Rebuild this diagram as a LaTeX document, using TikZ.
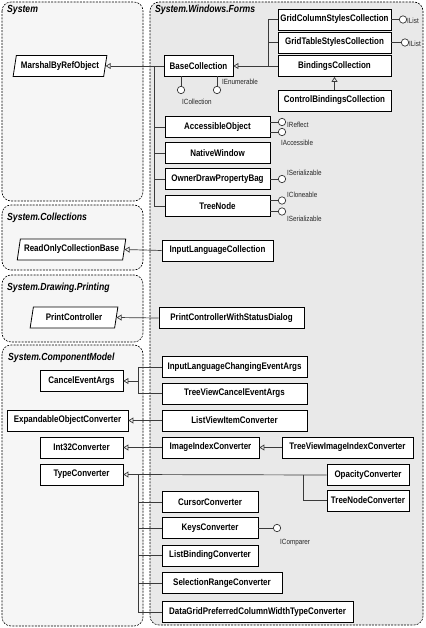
\documentclass[tikz,border=0pt]{standalone}
\usepackage{fontspec}
\setmainfont{Liberation Sans}[FakeStretch=0.84]
\usepackage{tikz}
\usetikzlibrary{shapes.geometric,arrows.meta,positioning}
\definecolor{pkgfill}{HTML}{F6F6F6}
\definecolor{swffill}{HTML}{E9E9E9}
\definecolor{wire}{HTML}{3A3A3A}

\begin{document}
\begin{tikzpicture}[
  x=1pt,y=-1pt,
  pkg/.style={draw,dash pattern=on 2pt off 1.2pt,line width=0.6pt,rounded corners=9pt},
  pkgname/.style={anchor=base west,inner sep=0pt,font=\fontsize{10.3}{12}\selectfont\bfseries\itshape},
  cls/.style={draw,fill=white,line width=0.8pt,minimum height=21pt,inner sep=0pt,
              font=\fontsize{9.5}{11}\selectfont\bfseries},
  abs/.style={cls,trapezium,trapezium left angle=72,trapezium right angle=108,
              trapezium stretches=true},
  inh/.style={-{Triangle[open,length=5pt,width=6pt]},draw=wire,line width=0.7pt},
  wire/.style={draw=wire,line width=0.7pt},
  lolli/.style={draw=wire,line width=0.7pt,fill=white},
  iface/.style={anchor=base west,inner sep=0pt,text=black!85,font=\fontsize{7.5}{8}\selectfont}
]
\useasboundingbox (0,0) rectangle (425,628);

% packages
\draw[pkg,fill=pkgfill] (2,2)   rectangle (143,201);
\draw[pkg,fill=pkgfill] (2,205) rectangle (143,270);
\draw[pkg,fill=pkgfill] (2,275) rectangle (143,342);
\draw[pkg,fill=pkgfill] (2,345) rectangle (143,626);
\draw[pkg,fill=swffill] (150,2) rectangle (423,625);

\node[pkgname] (pSys)  at (7,13)    {System};
\node[pkgname] (pCol)  at (7,220)   {System.Collections};
\node[pkgname] (pPrn)  at (7,290)   {System.Drawing.Printing};
\node[pkgname] (pCM)   at (8,360)   {System.ComponentModel};
\node[pkgname] (pSWF)  at (155,13)  {System.Windows.Forms};

% System side
\node[abs,minimum width=94pt]  (MBRO) at (60,66)      {MarshalByRefObject};
\node[abs,minimum width=109pt] (ROCB) at (71.5,249.5) {ReadOnlyCollectionBase};
\node[abs,minimum width=88pt]  (PC)   at (74,317.5)   {PrintController};
\node[cls,minimum width=83pt]  (CEA)  at (81.5,381)   {CancelEventArgs};
\node[cls,minimum width=121pt] (EOC)  at (67.5,420.5) {ExpandableObjectConverter};
\node[cls,minimum width=83pt]  (I32)  at (81.5,447.5) {Int32Converter};
\node[cls,minimum width=83pt]  (TC)   at (81.5,474.5) {TypeConverter};

% System.Windows.Forms
\node[cls,minimum width=69pt]  (BC)    at (198.5,66)   {BaseCollection};
\node[cls,minimum width=113pt] (GCSC)  at (334.5,19.5) {GridColumnStylesCollection};
\node[cls,minimum width=113pt] (GTSC)  at (334.5,42.5) {GridTableStylesCollection};
\node[cls,minimum width=113pt] (BiC)   at (334.5,66)   {BindingsCollection};
\node[cls,minimum width=113pt] (CBC)   at (334.5,100.5){ControlBindingsCollection};
\node[cls,minimum width=105pt] (AO)    at (217.5,127)  {AccessibleObject};
\node[cls,minimum width=105pt] (NW)    at (217.5,153)  {NativeWindow};
\node[cls,minimum width=105pt] (ODPB)  at (217.5,179)  {OwnerDrawPropertyBag};
\node[cls,minimum width=105pt] (TN)    at (217.5,206)  {TreeNode};
\node[cls,minimum width=111pt] (ILC)   at (217.5,250.5){InputLanguageCollection};
\node[cls,minimum width=145pt] (PCWSD) at (231.5,318)  {PrintControllerWithStatusDialog};
\node[cls,minimum width=145pt] (ILCEA) at (234.5,367)  {InputLanguageChangingEventArgs};
\node[cls,minimum width=145pt] (TVCEA) at (234.5,393.5){TreeViewCancelEventArgs};
\node[cls,minimum width=145pt] (LVIC)  at (234.5,420.5){ListViewItemConverter};
\node[cls,minimum width=97pt]  (IIC)   at (210.5,447.5){ImageIndexConverter};
\node[cls,minimum width=131pt] (TVIIC) at (347.5,447.5){TreeViewImageIndexConverter};
\node[cls,minimum width=82pt]  (OC)    at (368,475)    {OpacityConverter};
\node[cls,minimum width=82pt]  (TNC)   at (368,500.5)  {TreeNodeConverter};
\node[cls,minimum width=96pt]  (CC)    at (210,502)    {CursorConverter};
\node[cls,minimum width=96pt]  (KC)    at (210,528)    {KeysConverter};
\node[cls,minimum width=96pt]  (LBC)   at (210,555.5)  {ListBindingConverter};
\node[cls,minimum width=120pt] (SRC)   at (222,583)    {SelectionRangeConverter};
\node[cls,minimum width=191pt] (DGC)   at (257.5,612)  {DataGridPreferredColumnWidthTypeConverter};

% bus points
\coordinate (busBC)  at (154,66);
\coordinate (busCol) at (268,66);
\coordinate (busCEA) at (138,381);
\coordinate (busTC)  at (138,474.5);
\coordinate (busOC)  at (303,474.5);

% inheritance
\draw[inh] (BC.west) -- (MBRO.east);
\draw[wire] (busBC) |- (TN.west);
\foreach \n in {AO,NW,ODPB} \draw[wire] (busBC |- \n.west) -- (\n.west);
\draw[inh] (BiC.west) -- (BC.east);
\draw[wire] (busCol) |- (GCSC.west);
\draw[wire] (busCol |- GTSC.west) -- (GTSC.west);
\draw[inh] (CBC.north) -- (BiC.south);
\draw[inh] (ILC.west) -- (ROCB.east);
\draw[inh] (PCWSD.west) -- (PC.east);
\draw[inh] (busCEA) -- (CEA.east);
\draw[wire] (busCEA) |- (ILCEA.west);
\draw[wire] (busCEA) |- (TVCEA.west);
\draw[inh] (LVIC.west) -- (EOC.east);
\draw[inh] (IIC.west) -- (I32.east);
\draw[inh] (TVIIC.west) -- (IIC.east);
\draw[inh] (OC.west) -- (TC.east);
\draw[wire] (busOC) |- (TNC.west);
\draw[wire] (busTC) |- (DGC.west);
\foreach \n in {CC,KC,LBC,SRC} \draw[wire] (busTC |- \n.west) -- (\n.west);

% interfaces
\draw[wire] (GCSC.east) -- (399,19.5);
\draw[lolli] (403,19.5) circle (3.7);
\node[iface] (iGCSC) at (407,24) {IList};
\draw[wire] (GTSC.east) -- (401,42.5);
\draw[lolli] (405,42.5) circle (3.7);
\node[iface] (iGTSC) at (409,47) {IList};
\draw[wire] (181,76.5) -- (181,86.3);
\draw[lolli] (181,90) circle (3.7);
\node[iface] (iColl) at (182,104.5) {ICollection};
\draw[wire] (217,76.5) -- (217,86.3);
\draw[lolli] (217,90) circle (3.7);
\node[iface] (iEnum) at (222,84.5) {IEnumerable};
\draw[wire] (270,122) -- (278.3,122);
\draw[lolli] (282,122) circle (3.7);
\node[iface] (iRefl) at (287,127.5) {IReflect};
\draw[wire] (270,132) -- (278.3,132);
\draw[lolli] (282,132) circle (3.7);
\node[iface] (iAcc) at (281,145.5) {IAccessible};
\draw[wire] (ODPB.east) -- (278.3,179);
\draw[lolli] (282,179) circle (3.7);
\node[iface] (iSer1) at (287,175.5) {ISerializable};
\draw[wire] (270,200.5) -- (278.3,200.5);
\draw[lolli] (282,200.5) circle (3.7);
\node[iface] (iClo) at (287,197.5) {ICloneable};
\draw[wire] (270,211.5) -- (278.3,211.5);
\draw[lolli] (282,211.5) circle (3.7);
\node[iface] (iSer2) at (287,221.5) {ISerializable};
\draw[wire] (KC.east) -- (273.3,528);
\draw[lolli] (277,528) circle (3.7);
\node[iface] (iCmp) at (280,544.5) {IComparer};
\end{tikzpicture}
\end{document}
